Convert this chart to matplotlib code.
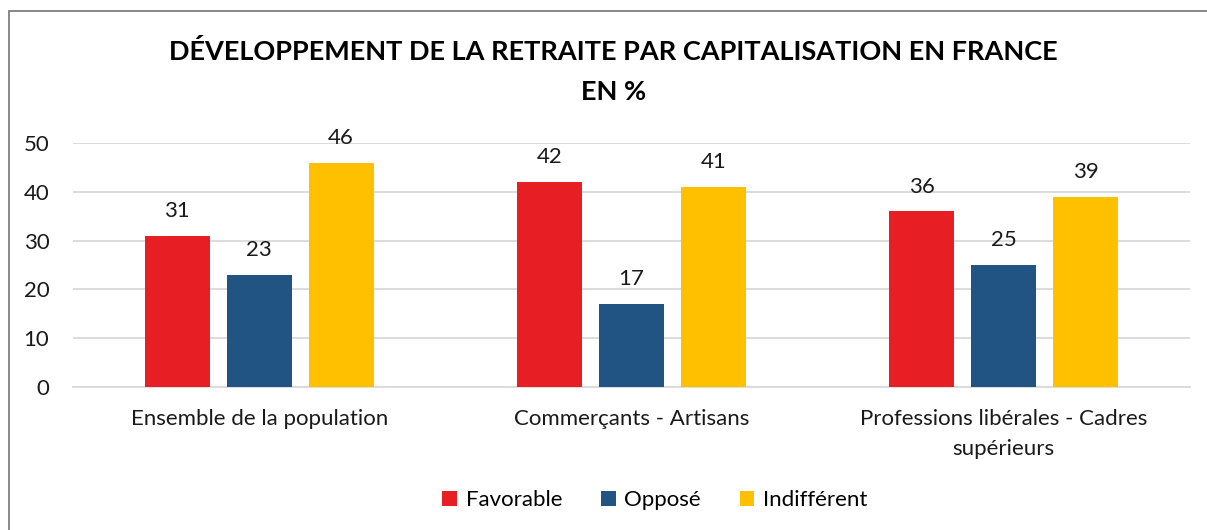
import numpy as np
import matplotlib
matplotlib.use("Agg")
import matplotlib.pyplot as plt
from matplotlib.patches import Rectangle

# data
categories = ["Ensemble de la population", "Commerçants - Artisans",
              "Professions libérales - Cadres\nsupérieurs"]
favorable = [31, 42, 36]
oppose = [23, 17, 25]
indifferent = [46, 41, 39]
series_names = ["Favorable", "Opposé", "Indifférent"]
colors = ["#E81E25", "#215483", "#FFC000"]
yticks = [0, 10, 20, 30, 40, 50]

plt.rcParams['font.family'] = ['Lato', 'DejaVu Sans']

fig = plt.figure(figsize=(12.07, 5.30), dpi=100)
ax = fig.add_axes([73 / 1207, 143 / 530, (1190 - 73) / 1207, 244 / 530])

x = np.arange(len(categories))
width = 0.175
offset = 0.22
for i, (vals, name) in enumerate(zip([favorable, oppose, indifferent], series_names)):
    bars = ax.bar(x + (i - 1) * offset, vals, width, color=colors[i], label=name, zorder=3)
    for b, v in zip(bars, vals):
        ax.text(b.get_x() + b.get_width() / 2, v + 3.0, str(v), ha="center", va="bottom",
                fontsize=16, color="#1A1A1A")

ax.set_xlim(-0.5, 2.5)
ax.set_ylim(0, 50)
ax.set_yticks(yticks)
ax.yaxis.grid(True, color="#D9D9D9", linewidth=1.3, zorder=0)
ax.tick_params(axis="y", length=0, labelsize=16, pad=17, labelcolor="#1A1A1A")
ax.tick_params(axis="x", length=0, labelsize=16, pad=16, labelcolor="#1A1A1A")
ax.set_xticks(x)
ax.set_xticklabels(categories, linespacing=1.6)
for s in ["top", "right", "left"]:
    ax.spines[s].set_visible(False)
ax.spines["bottom"].set_color("#D9D9D9")
ax.spines["bottom"].set_linewidth(1.3)

fig.text(0.508, 1 - 52 / 530, "DÉVELOPPEMENT DE LA RETRAITE PAR CAPITALISATION EN FRANCE",
         ha="center", va="center", fontsize=19.5, fontweight="bold")
fig.text(0.508, 1 - 92 / 530, "EN %", ha="center", va="center", fontsize=19.5, fontweight="bold")

fig.legend(loc="center", bbox_to_anchor=(655 / 1207, 1 - 500 / 530), ncol=3, frameon=False,
           fontsize=16, handlelength=0.65, handleheight=0.65, handletextpad=0.4,
           columnspacing=1.75)

fig.patches.append(Rectangle((9 / 1207, -0.1), 1.2, 1.1 - 11 / 530, transform=fig.transFigure,
                             fill=False, edgecolor="#7F7F7F", linewidth=1.3))

fig.savefig("out.png", dpi=100)
